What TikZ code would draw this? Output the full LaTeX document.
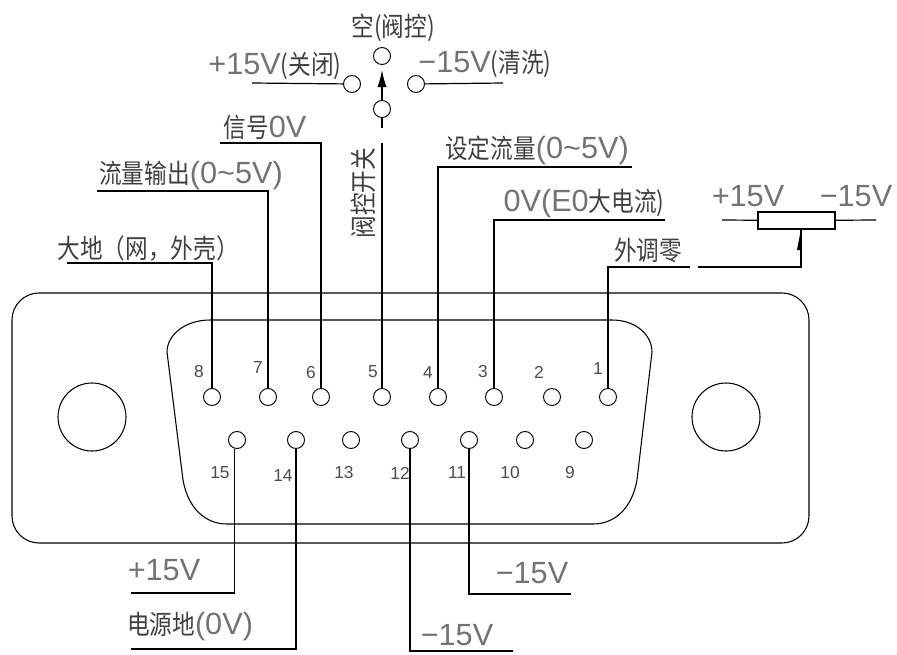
\documentclass[tikz,border=0pt]{standalone}
\usepackage{fontspec}
\usepackage{tikz}
\usetikzlibrary{arrows.meta}
\setmainfont{Liberation Sans}
\newfontfamily\cjk[FakeStretch=0.85]{Noto Sans CJK SC}
\newcommand{\zh}[1]{{\cjk\fontsize{20}{23}\selectfont\color{black!75}#1}}

\tikzset{
	pin/.style={draw, circle, inner sep=0pt, minimum size=17*0.75pt, line width=0.7pt},
	lead/.style={line width=0.9pt},
	body/.style={line width=0.8pt},
	lbl/.style={inner sep=0pt, text=black!55, font=\fontsize{23}{26}\selectfont},
	num/.style={inner sep=0pt, text=black!70, font=\fontsize{13}{15}\selectfont}
}

\begin{document}
\begin{tikzpicture}[x=0.75pt, y=-0.75pt]
				\useasboundingbox (0,0) rectangle (897,654);

				% Housing
				\draw[body, rounded corners=27*0.75pt] (12,293) rectangle (809,543);
				\draw[body] (210,320) -- (612,320)
					.. controls (636,320) and (652,335) .. (652,352)
					-- (637,480)
					.. controls (632,508) and (615,524) .. (593,524)
					-- (227,524)
					.. controls (205,524) and (188,508) .. (183,480)
					-- (167,352)
					.. controls (167,335) and (185,320) .. (210,320) -- cycle;
				\node (holeL) [draw, circle, body, minimum size=68*0.75pt, inner sep=0pt] at (92,417) {};
				\node (holeR) [draw, circle, body, minimum size=68*0.75pt, inner sep=0pt] at (726,417) {};

				% Pins
				\foreach \n/\px in {8/212,7/268,6/321,5/382,4/438,3/494,2/552,1/608}
					\node (pin\n) [pin] at (\px,397) {};
				\foreach \n/\px in {15/237,14/296,13/351,12/410,11/469,10/525,9/584}
					\node (pin\n) [pin] at (\px,440) {};

				% Pin numbers
				\foreach \n/\px/\py in {8/199/372,7/258/368,6/311/373,5/373/372,4/428/373,3/483/372,2/539/372,1/598/369,
					15/220/473,14/283/476,13/344/473,12/400/473,11/457/473,10/510/473,9/570/473}
					\node (num\n) [num] at (\px,\py) {\n};

				% Switch
				\node (swA) [pin] at (382,56) {};
				\node (swB) [pin] at (352,84) {};
				\node (swC) [pin] at (416,84) {};
				\node (swD) [pin] at (382,109) {};
				\coordinate (swTip) at (382,70);
				\coordinate (swEnd) at (382,128);
				\coordinate (swIn) at (382,143);
				\coordinate (swL) at (252,83);
				\coordinate (swR) at (503,83);

				% Leader ends
				\coordinate (end8) at (67,263);
				\coordinate (end7) at (97,191);
				\coordinate (end6) at (220,143);
				\coordinate (end4) at (632,167);
				\coordinate (end3) at (665,220);
				\coordinate (end15) at (131,593);
				\coordinate (end14) at (131,649);
				\coordinate (end12) at (513,651);
				\coordinate (end11) at (571,594);
				\coordinate (gapA) at (690,267);
				\coordinate (gapB) at (698,267);
				\coordinate (wiper) at (801,229);
				\coordinate (leadL) at (722,220);
				\coordinate (leadR) at (876,220);

				% Trimmer
				\node (trim) [draw, rectangle, line width=1pt, inner sep=0pt, minimum width=77*0.75pt, minimum height=17*0.75pt] at (796.5,220.5) {};

				% Labels
				\node (lblOpen) [lbl] at (393,28) {\zh{空(阀控)}};
				\node (lblOff) [lbl] at (275,66) {+15V\zh{(关闭)}};
				\node (lblWash) [lbl] at (485,64) {−15V\zh{(清洗)}};
				\node (lblSig) [lbl] at (265,127) {\zh{信号}0V};
				\node (lblFlow) [lbl] at (191,175) {\zh{流量输出}(0\textasciitilde 5V)};
				\node (lblEarth) [lbl] at (148,249) {\zh{大地（网，外壳）}};
				\node (lblSwitch) [lbl, rotate=90] at (363,193) {\zh{阀控开关}};
				\node (lblSet) [lbl] at (537,150) {\zh{设定流量}(0\textasciitilde 5V)};
				\node (lblZero) [lbl] at (584,203) {0V(E0\zh{大电流)}};
				\node (lblTrim) [lbl] at (648,250) {\zh{外调零}};
				\node (lblPos) [lbl] at (748,196) {+15V};
				\node (lblNeg) [lbl] at (856,196) {−15V};
				\node (lblP15) [lbl] at (164,570) {+15V};
				\node (lblGnd) [lbl] at (190,626) {\zh{电源地}(0V)};
				\node (lblN12) [lbl] at (457,635) {−15V};
				\node (lblN11) [lbl] at (532,573) {−15V};

				% Arrows
				\draw[lead] (pin8) |- (end8);
				\draw[lead] (pin7) |- (end7);
				\draw[lead] (pin6) |- (end6);
				\draw[lead] (pin5) -- (swIn);
				\draw[lead] (pin4) |- (end4);
				\draw[lead] (pin3) |- (end3);
				\draw[lead] (pin1) |- (gapA);
				\draw[lead] (gapB) -| (wiper);
				\draw[lead] (pin15.-105) |- (end15);
				\draw[lead] (pin14) |- (end14);
				\draw[lead] (pin12) |- (end12);
				\draw[lead] (pin11) |- (end11);
				\draw[lead] (swB) -- (swL);
				\draw[lead] (swC) -- (swR);
				\draw[lead] (swD) -- (swEnd);
				\draw[lead, -{Latex[length=17*0.75pt, width=9*0.75pt]}] (swD) -- (swTip);
				\draw[lead] (leadL) -- (trim);
				\draw[lead] (trim) -- (leadR);
				\fill (wiper) -- (801,250) -- (797,250) -- cycle;
		\end{tikzpicture}
\end{document}
